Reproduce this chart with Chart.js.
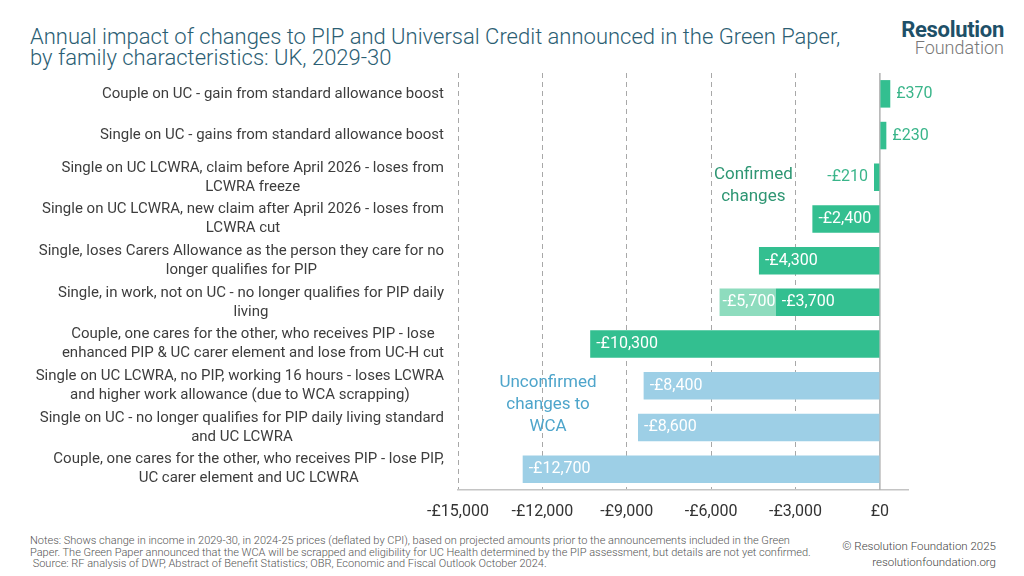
<!DOCTYPE html>
<html>
<head>
<meta charset="utf-8">
<script src="https://cdn.jsdelivr.net/npm/chart.js@4"></script>
<style>
  body { margin: 0; width: 1024px; height: 576px; background: #fff; position: relative; overflow: hidden; font-family: Roboto, sans-serif; }
  #title { position: absolute; left: 30px; top: 26px; font-size: 22px; font-weight: 300; line-height: 21px; color: #2b5e73; }
  #logo { position: absolute; right: 20px; top: 21px; text-align: right; line-height: 18px; }
  #logo .r { font-size: 22px; font-weight: 700; color: #1e5068; letter-spacing: -0.3px; }
  #logo .f { font-size: 18px; font-weight: 300; color: #777; }
  #wrap { position: absolute; left: 0; top: 65px; width: 1024px; height: 460px; }
  #notes { position: absolute; left: 30px; top: 535px; font-size: 11px; line-height: 11.7px; color: #555; font-weight: 300; }
  #credit { position: absolute; right: 28px; top: 538px; font-size: 11.5px; line-height: 16px; color: #444; text-align: right; font-weight: 300; }
</style>
</head>
<body>
<div id="title">Annual impact of changes to PIP and Universal Credit announced in the Green Paper,<br>by family characteristics: UK, 2029-30</div>
<div id="logo"><div class="r">Resolution</div><div class="f">Foundation</div></div>
<div id="wrap"><canvas id="chart"></canvas></div>
<div id="notes">Notes: Shows change in income in 2029-30, in 2024-25 prices (deflated by CPI), based on projected amounts prior to the announcements included in the Green<br>Paper. The Green Paper announced that the WCA will be scrapped and eligibility for UC Health determined by the PIP assessment, but details are not yet confirmed.<br>&nbsp;Source: RF analysis of DWP, Abstract of Benefit Statistics; OBR, Economic and Fiscal Outlook October 2024.</div>
<div id="credit">© Resolution Foundation 2025<br>resolutionfoundation.org</div>

<script>
const CATEGORIES = [
    ["Couple on UC - gain from standard allowance boost"],
    ["Single on UC - gains from standard allowance boost"],
    ["Single on UC LCWRA, claim before April 2026 - loses from", "LCWRA freeze"],
    ["Single on UC LCWRA, new claim after April 2026 - loses from", "LCWRA cut"],
    ["Single, loses Carers Allowance as the person they care for no", "longer qualifies for PIP"],
    ["Single, in work, not on UC - no longer qualifies for PIP daily", "living"],
    ["Couple, one cares for the other, who receives PIP - lose", "enhanced PIP & UC carer element and lose from UC-H cut"],
    ["Single on UC LCWRA, no PIP, working 16 hours - loses LCWRA", "and higher work allowance (due to WCA scrapping)"],
    ["Single on UC - no longer qualifies for PIP daily living standard", "and UC LCWRA"],
    ["Couple, one cares for the other, who receives PIP - lose PIP,", "UC carer element and UC LCWRA"]
];

// confirmed changes
const CONFIRMED   = [370, 230, -210, -2400, -4300, -3700, -10300, null, null, null];
// total including the lighter extension (only the in-work single row)
const WITH_EXTRA  = [null, null, null, null, null, -5700, null, null, null, null];
// unconfirmed changes to WCA
const UNCONFIRMED = [null, null, null, null, null, null, null, -8400, -8600, -12700];

const X_TICKS = [-15000, -12000, -9000, -6000, -3000, 0];
const X_MIN = -15000;
const X_MAX = 1000;

const GREEN = '#33bf90';
const LIGHT_GREEN = '#8edcbe';
const BLUE = '#9dcfe6';

const EXTRA = WITH_EXTRA.map((v, i) => v === null ? null : v - CONFIRMED[i]);

const fmt = v => (v < 0 ? '-' : '') + '£' + Math.abs(v).toLocaleString('en-GB');

const FONT = 'Roboto, sans-serif';

// category labels: each block right-aligned against the axis, its lines centred on each other
const catLabels = {
    id: 'catLabels',
    afterDraw(chart) {
        const ctx = chart.ctx;
        const ys = chart.scales.y;
        const right = ys.right - 14;
        const lh = 19;
        ctx.save();
        ctx.font = `15px ${FONT}`;
        ctx.fillStyle = '#3d3d3d';
        ctx.textAlign = 'center';
        ctx.textBaseline = 'middle';
        CATEGORIES.forEach((lines, i) => {
            const w = Math.max(...lines.map(l => ctx.measureText(l).width));
            const cx = right - w / 2;
            const y = ys.getPixelForValue(i);
            const top = y - (lines.length - 1) * lh / 2;
            lines.forEach((l, k) => ctx.fillText(l, cx, top + k * lh));
        });
        ctx.restore();
    }
};

const barLabels = {
    id: 'barLabels',
    afterDatasetsDraw(chart) {
        const ctx = chart.ctx;
        ctx.save();
        ctx.font = `16px ${FONT}`;
        ctx.textBaseline = 'middle';
        chart.data.datasets.forEach((ds, di) => {
            const meta = chart.getDatasetMeta(di);
            meta.data.forEach((bar, i) => {
                const v = ds.data[i];
                if (v === null || v === undefined) return;
                const shown = ds.labelValues ? ds.labelValues[i] : v;
                const left = Math.min(bar.x, bar.base);
                if (v > 0) {
                    ctx.fillStyle = '#3ab58a';
                    ctx.textAlign = 'left';
                    ctx.fillText(fmt(shown), bar.x + 6, bar.y);
                } else if (v > -1000) {
                    ctx.fillStyle = '#3ab58a';
                    ctx.textAlign = 'right';
                    ctx.fillText(fmt(shown), bar.x - 6, bar.y);
                } else {
                    ctx.fillStyle = '#ffffff';
                    ctx.textAlign = 'left';
                    ctx.fillText(fmt(shown), left + (ds.labelValues ? 3 : 6), bar.y);
                }
            });
        });
        ctx.restore();
    }
};

const notesPlugin = {
    id: 'groupNotes',
    afterDatasetsDraw(chart, args, opts) {
        const ctx = chart.ctx;
        const xs = chart.scales.x, ys = chart.scales.y;
        ctx.save();
        ctx.font = `17px ${FONT}`;
        ctx.textAlign = 'center';
        ctx.textBaseline = 'middle';
        opts.items.forEach(it => {
            const x = xs.getPixelForValue(it.x);
            const y = ys.getPixelForValue(it.y);
            ctx.fillStyle = it.color;
            const h = 22;
            const top = y - (it.lines.length - 1) * h / 2;
            it.lines.forEach((l, k) => ctx.fillText(l, x, top + k * h));
        });
        ctx.restore();
    }
};

const zeroLine = {
    id: 'zeroLine',
    beforeDatasetsDraw(chart) {
        const ctx = chart.ctx;
        const x = chart.scales.x.getPixelForValue(0);
        const a = chart.chartArea;
        ctx.save();
        ctx.strokeStyle = '#b0b0b0';
        ctx.lineWidth = 1.5;
        ctx.beginPath();
        ctx.moveTo(x, a.top);
        ctx.lineTo(x, a.bottom);
        ctx.stroke();
        ctx.restore();
    }
};

const ctx = document.getElementById('chart').getContext('2d');

new Chart(ctx, {
    type: 'bar',
    data: {
        labels: CATEGORIES,
        datasets: [
            { label: 'Confirmed', data: CONFIRMED, backgroundColor: GREEN },
            { label: 'Confirmed (extra)', data: EXTRA, labelValues: WITH_EXTRA, backgroundColor: LIGHT_GREEN },
            { label: 'Unconfirmed', data: UNCONFIRMED, backgroundColor: BLUE }
        ]
    },
    options: {
        indexAxis: 'y',
        responsive: true,
        maintainAspectRatio: false,
        animation: false,
        layout: { padding: { top: 8, right: 116, left: 0, bottom: 0 } },
        datasets: { bar: { barPercentage: 0.66, categoryPercentage: 1, borderWidth: 0 } },
        plugins: {
            legend: { display: false },
            tooltip: { enabled: false },
            groupNotes: {
                items: [
                    { x: -4500, y: 2.2, lines: ['Confirmed', 'changes'], color: '#2e9673' },
                    { x: -11800, y: 7.45, lines: ['Unconfirmed', 'changes to', 'WCA'], color: '#4ea5cb' }
                ]
            }
        },
        scales: {
            x: {
                stacked: true,
                min: X_MIN,
                max: X_MAX,
                afterBuildTicks: s => { s.ticks = X_TICKS.map(v => ({ value: v })); },
                ticks: {
                    autoSkip: false,
                    maxRotation: 0,
                    padding: 12,
                    color: '#333',
                    font: { family: FONT, size: 16 },
                    callback: v => fmt(v)
                },
                grid: {
                    drawTicks: false,
                    color: c => (c.tick && c.tick.value < 0) ? '#a8a8a8' : 'rgba(0,0,0,0)',
                    lineWidth: 1
                },
                border: { display: true, color: '#c4c4c4', width: 1.5, dash: [5, 4] },
                afterFit: s => { s.height = 35; }
            },
            y: {
                stacked: true,
                ticks: { display: false },
                grid: { display: false, drawTicks: false },
                border: { display: false },
                afterFit: s => { s.width = 458; s.paddingTop = 0; s.paddingBottom = 0; }
            }
        }
    },
    plugins: [zeroLine, barLabels, notesPlugin, catLabels]
});
</script>
</body>
</html>
